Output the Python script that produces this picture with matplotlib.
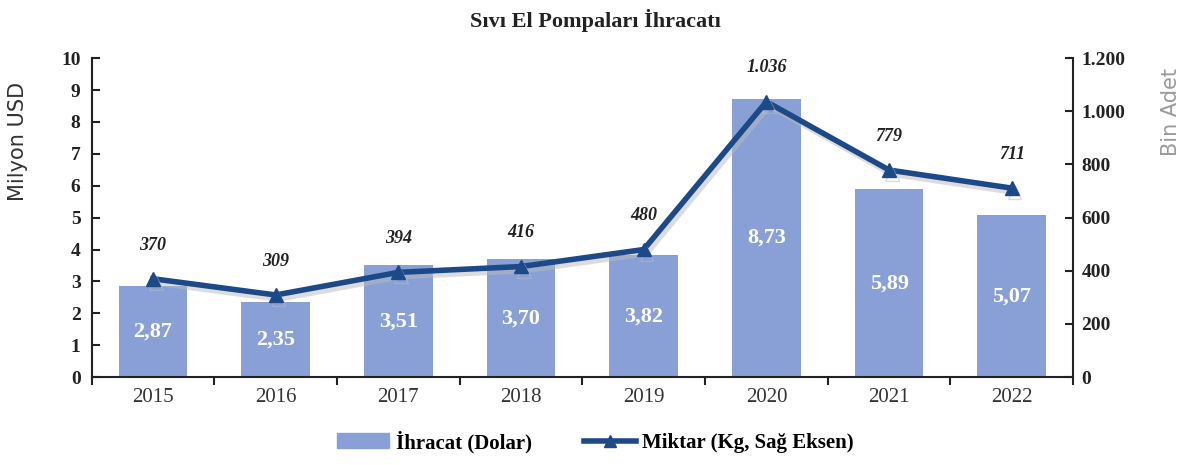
import matplotlib
matplotlib.use("Agg")
import matplotlib.pyplot as plt
import matplotlib.patheffects as pe
import numpy as np
from matplotlib.patches import Patch
from matplotlib.lines import Line2D

years = ["2015", "2016", "2017", "2018", "2019", "2020", "2021", "2022"]
export_musd = [2.87, 2.35, 3.51, 3.70, 3.82, 8.73, 5.89, 5.07]
quantity_k = [370, 309, 394, 416, 480, 1036, 779, 711]
export_labels = ["2,87", "2,35", "3,51", "3,70", "3,82", "8,73", "5,89", "5,07"]
quantity_labels = ["370", "309", "394", "416", "480", "1.036", "779", "711"]
left_ticks = list(range(0, 11))
right_ticks = [0, 200, 400, 600, 800, 1000, 1200]
right_tick_labels = ["0", "200", "400", "600", "800", "1.000", "1.200"]

bar_color = "#88A0D6"
line_color = "#1C4A88"
serif = "Liberation Serif"

fig = plt.figure(figsize=(11.91, 4.65), dpi=100)
ax = fig.add_axes([0.077, 0.189, 0.824, 0.686])
x = np.arange(len(years))

ax.bar(x, export_musd, width=0.56, color=bar_color, zorder=2)
ax.set_xlim(-0.5, len(years) - 0.5)
ax.set_ylim(0, 10)
ax.set_yticks(left_ticks)
ax.set_yticklabels([str(t) for t in left_ticks], fontfamily=serif, fontweight="bold",
                   fontsize=14, color="#222222")
ax.set_xticks(x)
ax.set_xticklabels(years, fontfamily=serif, fontsize=15, color="#333333")
ax.tick_params(axis="x", length=0, pad=8)
ax.set_xticks(np.arange(-0.5, len(years)), minor=True)
ax.tick_params(axis="x", which="minor", direction="out", length=6, width=1.5, color="#222222")
ax.tick_params(axis="y", direction="in", length=6, width=1.5, color="#222222", pad=8)
for s in ["top", "right"]:
    ax.spines[s].set_visible(False)
for s in ["left", "bottom"]:
    ax.spines[s].set_linewidth(1.5)
    ax.spines[s].set_color("#222222")
ax.set_ylabel("Milyon USD", fontsize=15, color="#333333")
ax.yaxis.set_label_coords(-0.065, 0.74)

for xi, v, lab in zip(x, export_musd, export_labels):
    ax.text(xi, v / 2, lab, ha="center", va="center", color="white",
            fontfamily=serif, fontweight="bold", fontsize=16, zorder=4)

ax2 = ax.twinx()
ax2.set_ylim(0, 1200)
ax2.set_yticks(right_ticks)
ax2.set_yticklabels(right_tick_labels, fontfamily=serif, fontweight="bold",
                    fontsize=14, color="#222222")
ax2.tick_params(axis="y", direction="in", length=6, width=1.5, color="#222222", pad=6)
for s in ["top", "left", "bottom"]:
    ax2.spines[s].set_visible(False)
ax2.spines["right"].set_linewidth(1.5)
ax2.spines["right"].set_color("#222222")
ax2.set_ylabel("Bin Adet", fontsize=15, color="#9a9a9a")
ax2.yaxis.set_label_coords(1.09, 0.83)

ax2.plot(x, quantity_k, color=line_color, lw=4, marker="^", markersize=10, zorder=5,
         path_effects=[pe.SimpleLineShadow(offset=(2, -3), shadow_color="#bbbbbb", alpha=0.5),
                       pe.Normal()])
for xi, v, lab in zip(x, quantity_k, quantity_labels):
    ax2.text(xi, v + 95, lab, ha="center", va="bottom", fontfamily=serif,
             fontweight="bold", fontstyle="italic", fontsize=13, color="#222222")

fig.text(0.5, 0.955, "Sıvı El Pompaları İhracatı", ha="center", va="center",
         fontfamily=serif, fontweight="bold", fontsize=16, color="#222222")

handles = [Patch(color=bar_color, label="İhracat (Dolar)"),
           Line2D([0], [0], color=line_color, lw=4, marker="^", markersize=9,
                  label="Miktar (Kg, Sağ Eksen)")]
fig.legend(handles=handles, loc="center", bbox_to_anchor=(0.5, 0.05), ncol=2,
           frameon=False, prop={"family": serif, "weight": "bold", "size": 15},
           handlelength=2.5, columnspacing=2.5, handletextpad=0.3)

fig.savefig("out.png", dpi=100)
